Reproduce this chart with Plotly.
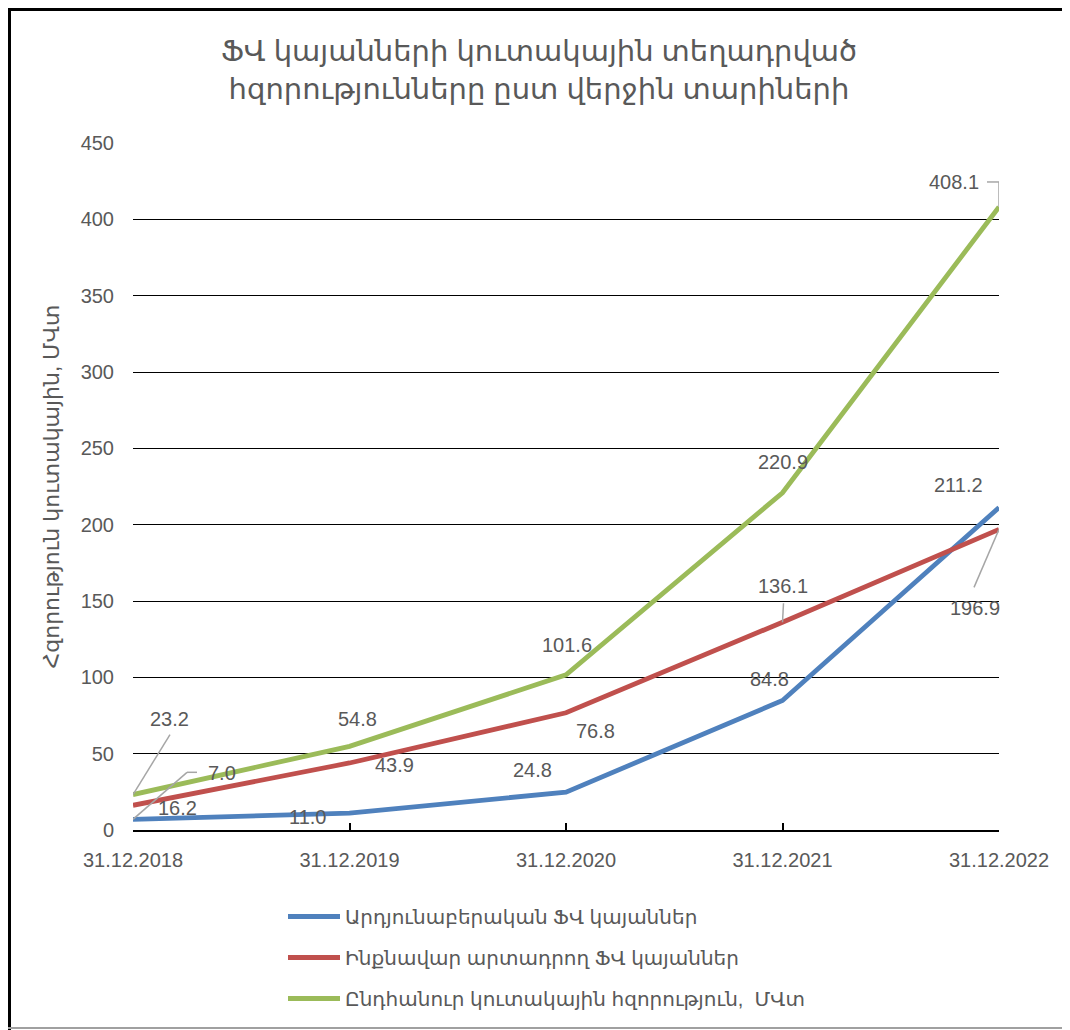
import plotly.graph_objects as go

# ---- data ----
categories = ["31.12.2018", "31.12.2019", "31.12.2020", "31.12.2021", "31.12.2022"]
industrial = [7.0, 11.0, 24.8, 84.8, 211.2]
autonomous = [16.2, 43.9, 76.8, 136.1, 196.9]
total = [23.2, 54.8, 101.6, 220.9, 408.1]
series_names = [
    "Արդյունաբերական ՖՎ կայաններ",
    "Ինքնավար արտադրող ՖՎ կայաններ",
    "Ընդհանուր կուտակային հզորություն,  ՄՎտ",
]
title_text = "ՖՎ կայանների կուտակային տեղադրված<br>հզորությունները ըստ վերջին տարիների"
y_title = "Հզորություն կուտակային, ՄՎտ"

# ---- style ----
colors = ["#4F81BD", "#C0504D", "#9BBB59"]
txt = "#595959"
FONT = "Liberation Sans, DejaVu Sans, sans-serif"
OFF = 8  # page body margin
W, H = 1062, 1022
L, T = 133 - OFF, 143 - OFF
PW, PH = 866, 687
R, B = W - L - PW, H - T - PH

def px(x):
    return (x - OFF - L) / PW

def py(y):
    return (T + PH - (y - OFF)) / PH

# label offsets in pixels (dx right, dy up) per series/point
label_off = [
    [(89, 46), (-42, -4), (-34, 22), (-13, 22), (-41, 23)],
    [(44, -3), (45, -2), (29, -18), (0, 36), (-24, -79)],
    [(36, 76), (8, 27), (1, 30), (0, 31), (-45, 25)],
]
# leader lines: (series, point, polyline in pixel offsets)
leaders = [
    (2, 0, [(0, 0), (37, 60)]),
    (2, 4, [(0, 0), (0, 25), (-12, 25)]),
    (1, 4, [(0, 0), (-25, -58)]),
    (1, 3, [(0, 0), (1, 19)]),
    (0, 0, [(0, 0), (54, 47), (64, 47)]),
]

all_series = [industrial, autonomous, total]

fig = go.Figure()
for i, (vals, name) in enumerate(zip(all_series, series_names)):
    fig.add_trace(go.Scatter(
        x=categories, y=vals, mode="lines", name=name,
        line=dict(color=colors[i], width=4.8),
        legendgroup=f"g{i}", hoverinfo="x+y",
    ))

annotations = []
for i, vals in enumerate(all_series):
    for j, v in enumerate(vals):
        dx, dy = label_off[i][j]
        annotations.append(dict(
            x=categories[j], y=v, xref="x", yref="y", text=f"{v:.1f}",
            showarrow=False, xshift=dx, yshift=dy,
            font=dict(family=FONT, size=20, color=txt),
        ))

shapes = []
for si, pj, poly in leaders:
    for (x0, y0), (x1, y1) in zip(poly[:-1], poly[1:]):
        shapes.append(dict(
            type="line", xref="x", yref="y",
            xsizemode="pixel", ysizemode="pixel",
            xanchor=pj, yanchor=all_series[si][pj],
            x0=x0, y0=y0, x1=x1, y1=y1,
            line=dict(color="#A6A6A6", width=1.5),
        ))

# outer frame
shapes.append(dict(type="line", xref="paper", yref="paper",
                   x0=px(8), x1=px(1070), y0=py(9.5), y1=py(9.5),
                   line=dict(color="black", width=3)))
shapes.append(dict(type="line", xref="paper", yref="paper",
                   x0=px(9.5), x1=px(9.5), y0=py(8), y1=py(1030),
                   line=dict(color="black", width=3)))
shapes.append(dict(type="line", xref="paper", yref="paper",
                   x0=px(8), x1=px(1070), y0=py(1028), y1=py(1028),
                   line=dict(color="#A0A0A0", width=2)))

fig.update_layout(
    width=W, height=H,
    margin=dict(l=L, r=R, t=T, b=B, autoexpand=False),
    paper_bgcolor="white", plot_bgcolor="white",
    font=dict(family=FONT, color=txt, size=20),
    title=dict(text=title_text, x=0.5, xanchor="center", xref="container",
               y=1 - (61 - OFF) / H, yanchor="middle",
               font=dict(family=FONT, size=29, color=txt)),
    showlegend=True,
    legend=dict(orientation="v", x=px(283), xanchor="left",
                y=py(897), yanchor="top", tracegroupgap=12, itemwidth=52,
                font=dict(family=FONT, size=20, color=txt),
                bgcolor="rgba(0,0,0,0)"),
    annotations=annotations,
    shapes=shapes,
)
fig.update_xaxes(
    type="category", range=[0, len(categories) - 1],
    showline=True, linecolor="black", linewidth=2,
    ticks="inside", ticklen=7, tickwidth=2, tickcolor="black",
    showgrid=False, zeroline=False,
    tickfont=dict(family=FONT, size=20, color=txt),
    ticklabelstandoff=11,
)
fig.update_yaxes(
    range=[0, 450], dtick=50, tick0=0,
    showgrid=True, gridcolor="black", gridwidth=1,
    zeroline=False, showline=False, ticks="",
    tickfont=dict(family=FONT, size=20, color=txt),
    ticklabelstandoff=18,
    title=dict(text=y_title, standoff=14,
               font=dict(family=FONT, size=22, color=txt)),
    automargin=False,
)

fig.write_html("out.html")
